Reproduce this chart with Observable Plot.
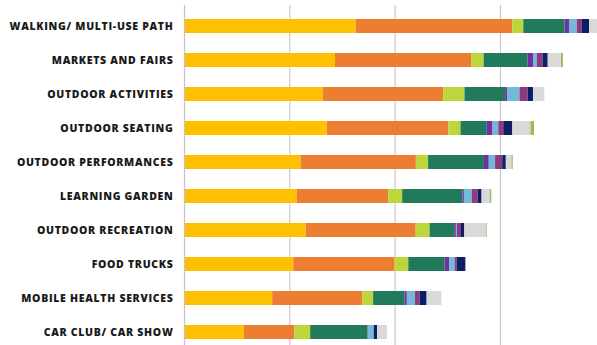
<!DOCTYPE html>
<html>
<head>
<meta charset="utf-8">
<script src="https://cdn.jsdelivr.net/npm/d3@7"></script>
<script src="https://cdn.jsdelivr.net/npm/@observablehq/plot@0.6"></script>
<style>
  html, body { margin: 0; padding: 0; background: #fff; overflow: hidden; }
  #chart svg { display: block; }
</style>
</head>
<body>
<div id="chart"></div>
<script>
const categories = [
  "WALKING/ MULTI-USE PATH",
  "MARKETS AND FAIRS",
  "OUTDOOR ACTIVITIES",
  "OUTDOOR SEATING",
  "OUTDOOR PERFORMANCES",
  "LEARNING GARDEN",
  "OUTDOOR RECREATION",
  "FOOD TRUCKS",
  "MOBILE HEALTH SERVICES",
  "CAR CLUB/ CAR SHOW"
];
const seriesNames = ["S1", "S2", "S3", "S4", "S5", "S6", "S7", "S8", "S9", "S10"];
const seriesColors = ["#FFC000", "#ED7D31", "#BCD63C", "#207A5B", "#6E30A2", "#74B9D9", "#8E3A7E", "#0B1F66", "#D9D9D9", "#9DBB5A"];

// one array per series, values in category order
const s1  = [81.5, 71.7, 65.9, 67.8, 55.4, 53.5, 57.8, 51.9, 41.9, 28.5];
const s2  = [74.4, 64.6, 57.3, 57.7, 54.7, 43.5, 52.2, 48.0, 42.7, 23.9];
const s3  = [5.2, 6.0, 10.0, 5.8, 5.8, 6.6, 6.6, 6.6, 5.2, 7.5];
const s4  = [19.6, 20.8, 19.3, 12.4, 26.5, 28.6, 11.7, 17.3, 14.9, 27.2];
const s5  = [2.1, 2.6, 0.9, 2.8, 2.3, 0.7, 0.8, 2.1, 1.1, 0.2];
const s6  = [3.7, 1.8, 5.9, 2.7, 3.0, 3.7, 0.5, 2.6, 3.9, 2.8];
const s7  = [2.4, 2.7, 3.9, 2.4, 3.4, 2.8, 1.9, 0.9, 2.2, 0];
const s8  = [3.4, 2.5, 2.5, 4.3, 1.7, 1.9, 1.6, 4.2, 3.3, 1.6];
const s9  = [3.8, 6.3, 5.4, 8.6, 2.7, 3.9, 10.4, 0, 7.0, 4.7];
const s10 = [0, 0.9, 0, 1.7, 0.6, 0.7, 0.3, 0, 0, 0];
const seriesValues = [s1, s2, s3, s4, s5, s6, s7, s8, s9, s10];
const gridTicks = [50, 100, 150];

const rows = [];
seriesNames.forEach((s, i) => {
  categories.forEach((c, j) => rows.push({category: c, series: s, value: seriesValues[i][j]}));
});

const chart = Plot.plot({
  width: 597,
  height: 345,
  marginLeft: 184,
  marginRight: 0,
  marginTop: 5,
  marginBottom: 0,
  style: {fontFamily: "'Open Sans', sans-serif", background: "#fff", letterSpacing: "0.7px"},
  x: {domain: [0, 196.1], axis: null},
  y: {domain: categories, range: [0, 358.8], paddingInner: 0.59, paddingOuter: 0.525, axis: null, label: null},
  color: {domain: seriesNames, range: seriesColors},
  marks: [
    Plot.gridX(gridTicks, {stroke: "#bdbdbd", strokeOpacity: 1, strokeWidth: 1}),
    Plot.barX(rows, {y: "category", x: "value", fill: "series", order: null}),
    Plot.ruleX([0], {stroke: "#c4c4c4", strokeWidth: 1.2}),
    Plot.axisY({
      tickSize: 0,
      tickPadding: 11,
      fontSize: 10.5,
      fontWeight: 800,
      fill: "#1a1a1a",
      textAnchor: "end",
      label: null
    })
  ]
});
document.getElementById("chart").appendChild(chart);
</script>
</body>
</html>
